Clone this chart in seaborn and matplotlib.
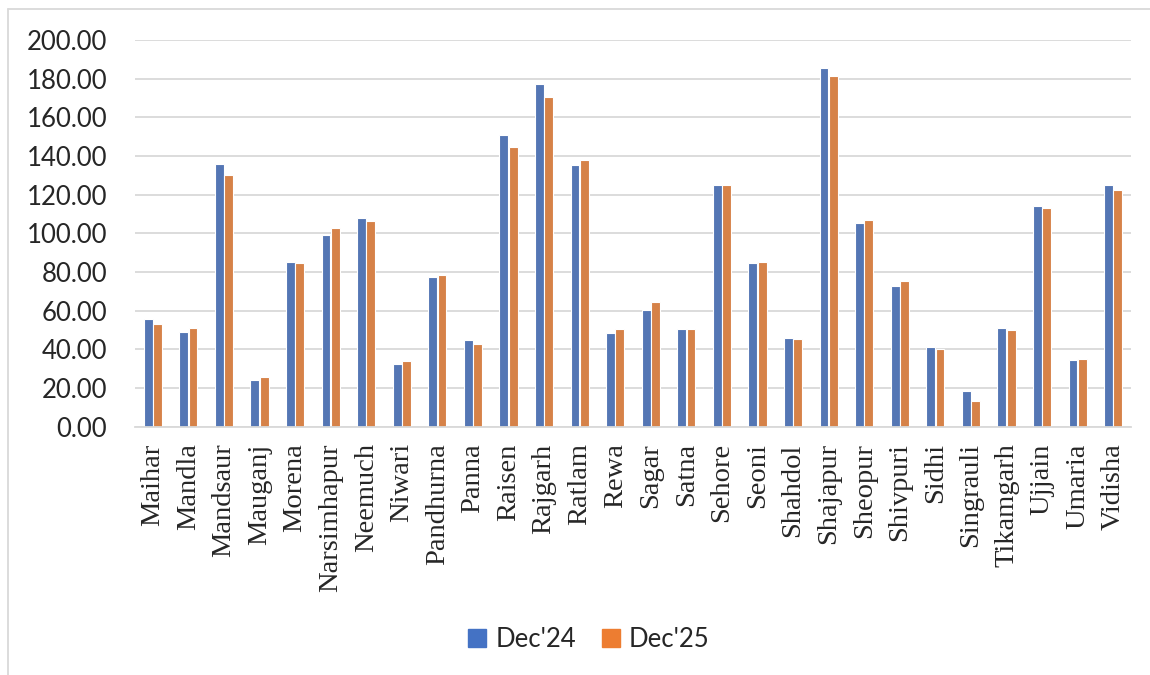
import seaborn as sns
import matplotlib.pyplot as plt
import pandas as pd
from matplotlib.patches import Rectangle
from matplotlib.lines import Line2D

# Datos
districts = ['Maihar', 'Mandla', 'Mandsaur', 'Mauganj', 'Morena', 'Narsimhapur', 'Neemuch',
             'Niwari', 'Pandhurna', 'Panna', 'Raisen', 'Rajgarh', 'Ratlam', 'Rewa', 'Sagar',
             'Satna', 'Sehore', 'Seoni', 'Shahdol', 'Shajapur', 'Sheopur', 'Shivpuri', 'Sidhi',
             'Singrauli', 'Tikamgarh', 'Ujjain', 'Umaria', 'Vidisha']
dec24 = [55.6, 49.0, 135.9, 24.2, 85.3, 99.3, 107.8, 32.6, 77.5, 44.6, 150.8, 177.0, 135.1,
         48.7, 60.3, 50.6, 124.9, 84.5, 45.9, 185.7, 105.5, 72.9, 41.3, 18.5, 50.8, 114.3,
         34.7, 124.9]
dec25 = [53.2, 51.0, 130.4, 25.7, 84.8, 102.6, 106.2, 34.0, 78.6, 43.0, 144.7, 170.3, 137.8,
         50.6, 64.4, 50.6, 124.9, 85.3, 45.1, 181.3, 107.1, 75.3, 40.4, 13.1, 49.9, 113.3,
         35.1, 122.6]
series = ["Dec'24", "Dec'25"]
colors = ['#4472C4', '#ED7D31']

df = pd.DataFrame({'district': districts * 2,
                   'value': dec24 + dec25,
                   'series': [series[0]] * len(districts) + [series[1]] * len(districts)})

sns.set_style('white')
plt.rcParams['font.family'] = ['Lato', 'DejaVu Sans']

fig = plt.figure(figsize=(11.5, 6.75), dpi=100)
ax = fig.add_axes([135 / 1150, 1 - 426.7 / 675, 996 / 1150, 386.7 / 675])

sns.barplot(data=df, x='district', y='value', hue='series', palette=colors,
            width=0.52, gap=0.05, edgecolor='white', linewidth=0.8, ax=ax)

# Ejes
ax.set_ylim(0, 200)
ax.set_yticks(range(0, 201, 20))
ax.set_yticklabels([f'{v:.2f}' for v in range(0, 201, 20)], fontsize=18.5)
ax.set_xlim(-0.5, len(districts) - 0.5)
ax.set_xticks(range(len(districts)))
ax.set_xticklabels(districts, rotation=90, fontsize=20.5, family='Liberation Serif')
ax.tick_params(axis='y', length=0, pad=20)
ax.tick_params(axis='x', length=0, pad=12)
ax.set_xlabel('')
ax.set_ylabel('')
ax.grid(axis='y', color='#D9D9D9', linewidth=1.3)
ax.set_axisbelow(True)
for s in ['top', 'right', 'left']:
    ax.spines[s].set_visible(False)
ax.spines['bottom'].set_color('#D9D9D9')
ax.spines['bottom'].set_linewidth(1.3)

# Leyenda
ax.legend_.remove()
handles = [Rectangle((0, 0), 1, 1, color=c) for c in colors]
fig.legend(handles, series, loc='center', bbox_to_anchor=(0.512, 0.053), ncol=2,
           frameon=False, fontsize=18.5, handlelength=0.7, handleheight=0.7,
           handletextpad=0.35, columnspacing=1.0)

# Marco exterior (solo borde izquierdo y superior visibles)
x0, y0 = 7.5 / 1150, 1 - 8.5 / 675
fig.add_artist(Line2D([x0, x0], [0, y0], transform=fig.transFigure,
                      color='#D9D9D9', linewidth=1.3))
fig.add_artist(Line2D([x0, 1], [y0, y0], transform=fig.transFigure,
                      color='#D9D9D9', linewidth=1.3))

fig.savefig('out.png', dpi=100)
